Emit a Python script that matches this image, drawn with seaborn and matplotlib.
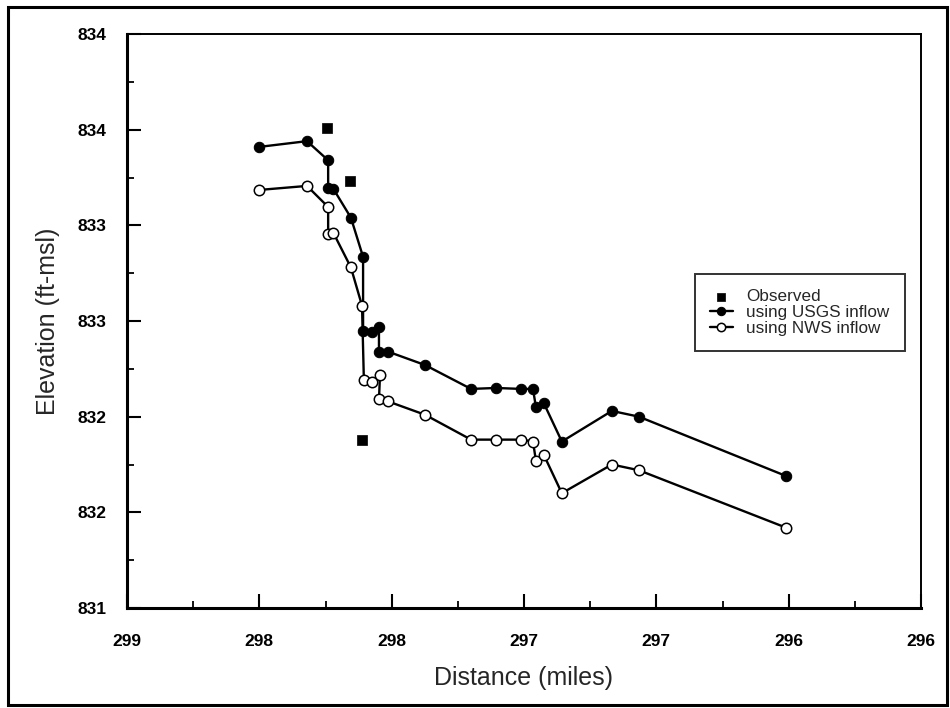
import matplotlib
matplotlib.use("Agg")
import matplotlib.pyplot as plt
import seaborn as sns
import pandas as pd
from matplotlib.patches import Rectangle
from matplotlib.ticker import MultipleLocator

# ---- data ----
usgs_x = [298.50, 298.32, 298.24, 298.24, 298.22, 298.154, 298.108, 298.108, 298.074,
          298.048, 298.048, 298.014, 297.874, 297.70, 297.606, 297.51, 297.466, 297.455,
          297.425, 297.357, 297.168, 297.066, 296.51]
usgs_y = [833.41, 833.44, 833.34, 833.195, 833.19, 833.04, 832.835, 832.45, 832.44,
          832.47, 832.34, 832.34, 832.27, 832.145, 832.15, 832.145, 832.145, 832.05,
          832.07, 831.87, 832.03, 832.0, 831.69]
nws_x = [298.50, 298.32, 298.24, 298.24, 298.22, 298.154, 298.112, 298.105, 298.074,
         298.044, 298.048, 298.014, 297.874, 297.70, 297.606, 297.51, 297.466, 297.455,
         297.425, 297.357, 297.168, 297.066, 296.51]
nws_y = [833.185, 833.206, 833.096, 832.955, 832.96, 832.78, 832.58, 832.19, 832.18,
         832.22, 832.09, 832.08, 832.01, 831.88, 831.88, 831.88, 831.87, 831.77,
         831.80, 831.60, 831.75, 831.72, 831.42]
obs_x = [298.245, 298.158, 298.112]
obs_y = [833.51, 833.23, 831.88]

x_ticks = [299, 298.5, 298, 297.5, 297, 296.5, 296]
x_tick_labels = ["299", "298", "298", "297", "297", "296", "296"]
y_ticks = [831, 831.5, 832, 832.5, 833, 833.5, 834]
y_tick_labels = ["831", "832", "832", "833", "833", "834", "834"]

sns.set_theme(style="white")
plt.rcParams["font.family"] = ["Liberation Sans", "DejaVu Sans"]

fig = plt.figure(figsize=(9.5, 7.08), dpi=100)
ax = fig.add_axes([127 / 950, 1 - 608 / 708, (921 - 127) / 950, (608 - 34) / 708])

df_usgs = pd.DataFrame({"x": usgs_x, "y": usgs_y})
df_nws = pd.DataFrame({"x": nws_x, "y": nws_y})
df_obs = pd.DataFrame({"x": obs_x, "y": obs_y})

sns.scatterplot(data=df_obs, x="x", y="y", ax=ax, marker="s", s=45, color="black",
                edgecolor="black", linewidth=0.5, label="Observed", zorder=4)
sns.lineplot(data=df_usgs, x="x", y="y", ax=ax, sort=False, estimator=None,
             color="black", linewidth=1.7, marker="o", markersize=7.5,
             markerfacecolor="black", markeredgecolor="black",
             label="using USGS inflow", zorder=3)
sns.lineplot(data=df_nws, x="x", y="y", ax=ax, sort=False, estimator=None,
             color="black", linewidth=1.7, marker="o", markersize=7.5,
             markerfacecolor="white", markeredgecolor="black", markeredgewidth=1.1,
             label="using NWS inflow", zorder=3)

ax.set_xlim(299, 296)
ax.set_ylim(831, 834)
ax.set_xticks(x_ticks)
ax.set_xticklabels(x_tick_labels)
ax.set_yticks(y_ticks)
ax.set_yticklabels(y_tick_labels)
ax.xaxis.set_minor_locator(MultipleLocator(0.25))
ax.yaxis.set_minor_locator(MultipleLocator(0.25))
ax.tick_params(axis="both", which="major", direction="in", length=10, width=1.5,
               labelsize=12.5, colors="black")
ax.tick_params(axis="both", which="minor", direction="in", length=5, width=1.3,
               colors="black")
ax.tick_params(axis="x", which="major", pad=19, bottom=True)
ax.tick_params(axis="y", which="major", pad=15, left=True)
ax.tick_params(axis="x", which="minor", bottom=True)
ax.tick_params(axis="y", which="minor", left=True)
for lab in ax.get_xticklabels() + ax.get_yticklabels():
    lab.set_fontweight("bold")

for side in ["left", "bottom"]:
    ax.spines[side].set_linewidth(2.2)
    ax.spines[side].set_color("black")
for side in ["top", "right"]:
    ax.spines[side].set_linewidth(1.4)
    ax.spines[side].set_color("black")

ax.set_xlabel("Distance (miles)", fontsize=18, labelpad=12)
ax.set_ylabel("Elevation (ft-msl)", fontsize=18, labelpad=12)

leg = ax.legend(loc="upper left", bbox_to_anchor=((695 - 127) / 794, 1 - (274 - 34) / 574),
                frameon=True, fancybox=False, fontsize=12.3, handlelength=1.3,
                handletextpad=0.8, borderpad=0.9, labelspacing=0.05, borderaxespad=0,
                markerscale=0.8)
leg.get_frame().set_edgecolor("black")
leg.get_frame().set_linewidth(1.4)

# outer frame
fig.patches.append(Rectangle((8 / 950, 3 / 708), 939 / 950, 698 / 708,
                             transform=fig.transFigure, fill=False,
                             edgecolor="black", linewidth=2.2))

fig.savefig("out.png", dpi=100)
